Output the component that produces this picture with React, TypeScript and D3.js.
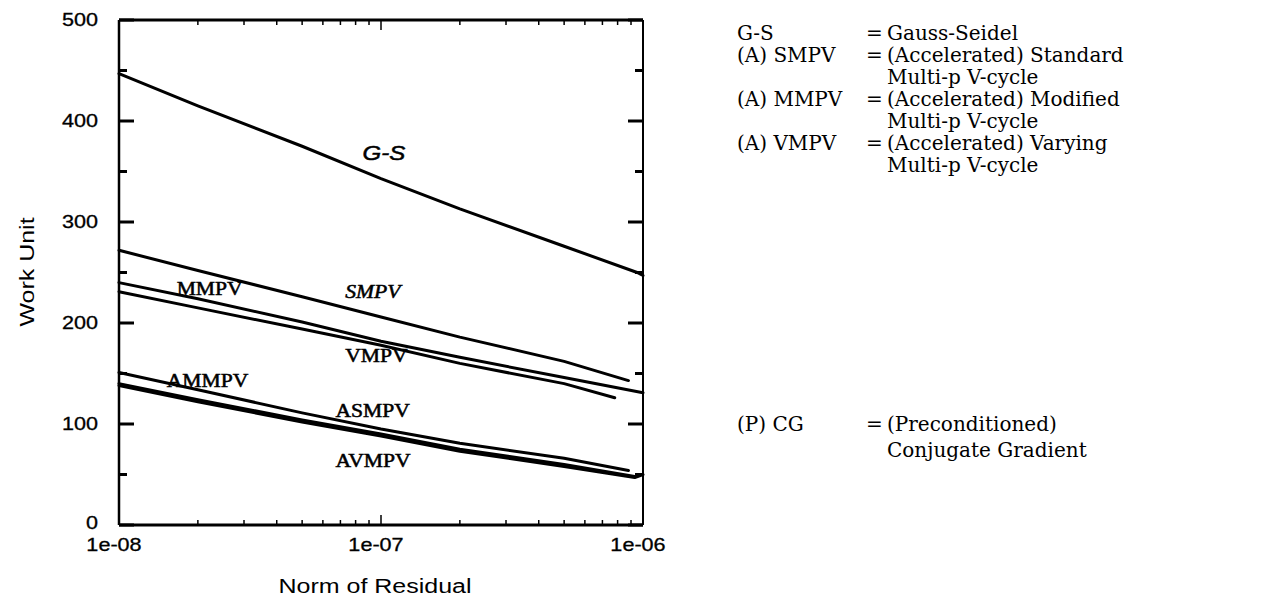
import React from "react";
import * as d3 from "d3";

// ---- data ----
const gsX = [1e-8, 2e-8, 5e-8, 1e-7, 2e-7, 5e-7, 9.5e-7, 1e-6];
const gsY = [447, 415, 375, 343, 313, 276, 250, 247];
const smpvX = [1e-8, 2e-8, 5e-8, 1e-7, 2e-7, 5e-7, 8.8e-7];
const smpvY = [272, 252, 226, 206, 186, 162, 143];
const mmpvX = [1e-8, 2e-8, 5e-8, 1e-7, 2e-7, 5e-7, 1e-6];
const mmpvY = [240, 224, 201, 182, 166, 146, 131];
const vmpvX = [1e-8, 2e-8, 5e-8, 1e-7, 2e-7, 5e-7, 7.8e-7];
const vmpvY = [231, 215, 194, 178, 160, 140, 126];
const ammpvX = [1e-8, 2e-8, 5e-8, 1e-7, 2e-7, 5e-7, 8.8e-7];
const ammpvY = [151, 134, 111, 95, 81, 66, 54];
const asmpvX = [1e-8, 2e-8, 5e-8, 1e-7, 2e-7, 5e-7, 9.3e-7];
const asmpvY = [140, 124, 104, 90, 75, 60, 48];
const avmpvX = [1e-8, 2e-8, 5e-8, 1e-7, 2e-7, 5e-7, 9.3e-7, 1e-6];
const avmpvY = [138, 122, 102, 88, 73, 58, 47, 50];

const seriesNames = ["G-S", "SMPV", "MMPV", "VMPV", "AMMPV", "ASMPV", "AVMPV"];
const seriesX = [gsX, smpvX, mmpvX, vmpvX, ammpvX, asmpvX, avmpvX];
const seriesY = [gsY, smpvY, mmpvY, vmpvY, ammpvY, asmpvY, avmpvY];

// in-plot labels (data coordinates: residual, work unit)
const labelText = ["G-S", "SMPV", "MMPV", "VMPV", "AMMPV", "ASMPV", "AVMPV"];
const labelX = [8.5e-8, 7.3e-8, 1.66e-8, 7.3e-8, 1.52e-8, 6.7e-8, 6.7e-8];
const labelY = [361, 225, 228, 161, 137, 107, 57];

const yTicks = [0, 100, 200, 300, 400, 500];
const yMinor = [50, 150, 250, 350, 450];
const xTicks = [1e-8, 1e-7, 1e-6];
const xTickLabels = ["1e-08", "1e-07", "1e-06"];

const legendKeys = ["G-S", "(A) SMPV", "", "(A) MMPV", "", "(A) VMPV", ""];
const legendEq = ["=", "=", "", "=", "", "=", ""];
const legendDesc = [
  "Gauss-Seidel",
  "(Accelerated) Standard",
  "Multi-p V-cycle",
  "(Accelerated) Modified",
  "Multi-p V-cycle",
  "(Accelerated) Varying",
  "Multi-p V-cycle",
];
const cgKeys = ["(P) CG", ""];
const cgEq = ["=", ""];
const cgDesc = ["(Preconditioned)", "Conjugate Gradient"];

export default function App() {
  const left = 119, right = 643, top = 20, bottom = 525;
  const x = d3.scaleLog().domain([1e-8, 1e-6]).range([left, right]);
  const y = d3.scaleLinear().domain([0, 500]).range([bottom, top]);
  const line = d3
    .line<[number, number]>()
    .x((d) => x(d[0]))
    .y((d) => y(d[1]));

  const minorX: number[] = [];
  [1e-8, 1e-7].forEach((dec) => {
    for (let k = 2; k <= 9; k++) minorX.push(dec * k);
  });

  const sans = "'Liberation Sans', Arial, sans-serif";
  const serif = "'Liberation Serif', 'Times New Roman', serif";
  const legendFont = "'DejaVu Serif', serif";

  return (
    <svg
      width={1265}
      height={600}
      style={{ position: "absolute", left: 0, top: 0, background: "#fff" }}
    >
      {/* frame */}
      <line x1={left} x2={right} y1={top} y2={top} stroke="#000" strokeWidth={3} />
      <line x1={left} x2={right} y1={bottom} y2={bottom} stroke="#000" strokeWidth={3} />
      <line x1={left} x2={left} y1={top} y2={bottom} stroke="#000" strokeWidth={2.5} />
      <line x1={right} x2={right} y1={top} y2={bottom} stroke="#000" strokeWidth={2} />

      {/* y ticks */}
      {yTicks.map((t) => (
        <g key={"yt" + t}>
          <line x1={left} x2={left + 15} y1={y(t)} y2={y(t)} stroke="#000" strokeWidth={3} />
          <line x1={right - 15} x2={right} y1={y(t)} y2={y(t)} stroke="#000" strokeWidth={3} />
          <text
            x={98}
            y={y(t) - (t === 0 ? 2 : 0)}
            dy="0.36em"
            textAnchor="end"
            fontFamily={sans}
            fontSize={18}
            stroke="#000"
            strokeWidth={0.3}
            transform={`translate(98,0) scale(1.2,1) translate(-98,0)`}
          >
            {t}
          </text>
        </g>
      ))}
      {yMinor.map((t) => (
        <g key={"ym" + t}>
          <line x1={left} x2={left + 8} y1={y(t)} y2={y(t)} stroke="#000" strokeWidth={3} />
          <line x1={right - 8} x2={right} y1={y(t)} y2={y(t)} stroke="#000" strokeWidth={3} />
        </g>
      ))}

      {/* x ticks */}
      {minorX.map((v) => (
        <g key={"xm" + v}>
          <line x1={x(v)} x2={x(v)} y1={top} y2={top + 5} stroke="#000" strokeWidth={1.5} />
          <line x1={x(v)} x2={x(v)} y1={bottom} y2={bottom - 5} stroke="#000" strokeWidth={1.5} />
        </g>
      ))}
      {xTicks.map((v, i) => (
        <g key={"xt" + v}>
          <line x1={x(v)} x2={x(v)} y1={top} y2={top + 10} stroke="#000" strokeWidth={1.5} />
          <line x1={x(v)} x2={x(v)} y1={bottom} y2={bottom - 10} stroke="#000" strokeWidth={1.5} />
          <text
            x={x(v) - 5}
            y={551}
            textAnchor="middle"
            fontFamily={sans}
            fontSize={18}
            stroke="#000"
            strokeWidth={0.3}
            transform={`translate(${x(v) - 5},0) scale(1.2,1) translate(${-(x(v) - 5)},0)`}
          >
            {xTickLabels[i]}
          </text>
        </g>
      ))}

      {/* axis titles */}
      <text
        x={375}
        y={593}
        textAnchor="middle"
        fontFamily={sans}
        fontSize={20}
        transform="translate(375,0) scale(1.25,1) translate(-375,0)"
      >
        Norm of Residual
      </text>
      <text
        textAnchor="middle"
        fontFamily={sans}
        fontSize={20}
        transform="translate(34,272) rotate(-90) scale(1.25,1)"
      >
        Work Unit
      </text>

      {/* series */}
      {seriesNames.map((name, i) => (
        <path
          key={name}
          d={line(seriesX[i].map((v, j) => [v, seriesY[i][j]] as [number, number])) || ""}
          fill="none"
          stroke="#000"
          strokeWidth={3}
          strokeLinejoin="round"
          strokeLinecap="round"
        />
      ))}

      {/* in-plot labels */}
      {labelText.map((t, i) => {
        const lx = x(labelX[i]);
        const ly = y(labelY[i]);
        const isGS = t === "G-S";
        return (
          <text
            key={"lab" + t}
            x={lx}
            y={ly}
            fontFamily={isGS ? sans : serif}
            fontStyle={isGS || t === "SMPV" ? "italic" : "normal"}
            fontSize={isGS ? 20 : 18}
            stroke="#000"
            strokeWidth={0.5}
            transform={`translate(${lx},0) scale(1.2,1) translate(${-lx},0)`}
          >
            {t}
          </text>
        );
      })}

      {/* legend */}
      <g fontFamily={legendFont} fontSize={20} fill="#000">
        {legendDesc.map((d, i) => (
          <g key={"lg" + i}>
            <text x={737} y={40 + i * 22}>{legendKeys[i]}</text>
            <text x={866} y={40 + i * 22}>{legendEq[i]}</text>
            <text x={887} y={40 + i * 22}>{d}</text>
          </g>
        ))}
        {cgDesc.map((d, i) => (
          <g key={"cg" + i}>
            <text x={737} y={431 + i * 26}>{cgKeys[i]}</text>
            <text x={866} y={431 + i * 26}>{cgEq[i]}</text>
            <text x={887} y={431 + i * 26}>{d}</text>
          </g>
        ))}
      </g>
    </svg>
  );
}
